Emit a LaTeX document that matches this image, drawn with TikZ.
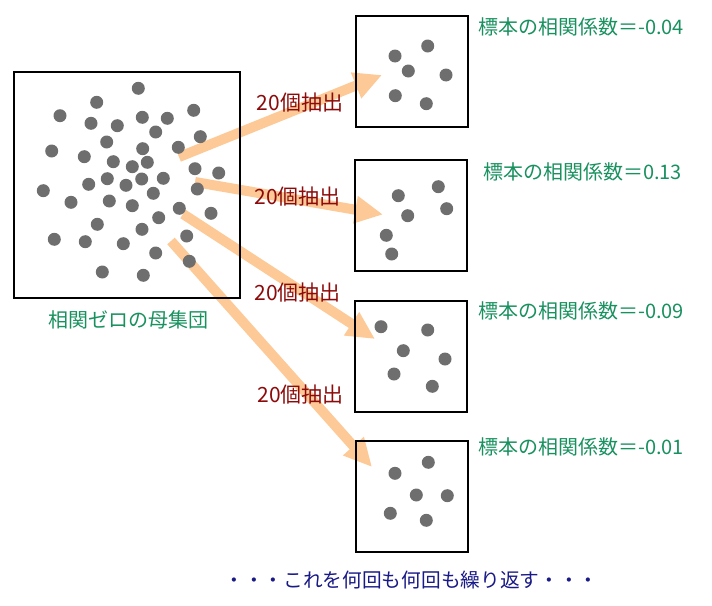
\documentclass[tikz,border=0pt]{standalone}
\usepackage{fontspec}
\setmainfont{Noto Sans CJK JP}
\usetikzlibrary{arrows.meta,backgrounds,calc}

\definecolor{pickorange}{RGB}{253,201,150}
\definecolor{dotgray}{RGB}{110,110,110}
\definecolor{corrgreen}{RGB}{25,145,95}
\definecolor{pickred}{RGB}{140,10,10}
\definecolor{notenavy}{RGB}{25,25,135}

\tikzset{
	box/.style={draw, line width=2pt, minimum width=112pt, minimum height=111pt, inner sep=0pt},
	dot/.style={fill=dotgray},
	pick/.style={line width=10pt, draw=pickorange, -{Triangle[length=28pt,width=26pt]}},
	picklabel/.style={text=pickred, inner sep=0pt, font=\fontsize{21pt}{24pt}\selectfont},
	corr/.style={text=corrgreen, anchor=west, inner sep=0pt, font=\fontsize{20pt}{23pt}\selectfont},
}

\begin{document}
\begin{tikzpicture}[x=1pt,y=-1pt]
	\useasboundingbox (0,0) rectangle (712,605);
	%population and samples
	\node[box, minimum width=226pt, minimum height=226pt] (pop) at (127,184.5) {};
	\node[corr, anchor=center] (poplabel) at (128,320) {相関ゼロの母集団};
	\node[box] (s1) at (411.5,71.5) {};
	\node[box] (s2) at (411,215.5) {};
	\node[box] (s3) at (411,356) {};
	\node[box] (s4) at (412,496.5) {};
	\node[corr] (r1) at (478,27) {標本の相関係数＝-0.04};
	\node[corr] (r2) at (483,172) {標本の相関係数＝0.13};
	\node[corr] (r3) at (478,311) {標本の相関係数＝-0.09};
	\node[corr] (r4) at (478,447) {標本の相関係数＝-0.01};
	%dots
	\foreach \x/\y in {138.3/88.3, 96.7/102.3, 60/115.7, 91/123.3, 117.3/125.7, 142.3/117.3,
		167.3/118.3, 193.7/110.3, 155.7/132, 200.3/136.7, 106.7/142, 51.7/151, 84.3/156.7,
		142.7/148.7, 178.3/147.3, 113.3/161.7, 132.3/166.7, 147.3/162.3, 195/168.7, 218.7/173,
		107.3/178.7, 88.7/184.3, 126/185.3, 141.7/179, 163.3/178.3, 197.3/189, 43.3/190.7,
		153.3/193.3, 71/202.3, 109.3/201, 132.3/205.7, 179.3/208.3, 211/213.3, 158.7/217.7,
		97.3/224.3, 142/229.3, 54.3/239.3, 85.3/241.7, 123.3/243.7, 186.7/236, 155.7/253,
		189.3/261.3, 102.3/272, 143.3/275.3}
		\fill[dot] (\x,\y) circle (6.5pt);
	\foreach \x/\y in {427.7/46, 395/56, 408.3/71, 446/75, 395.3/95.7, 426.3/103.7,
		438.3/186.7, 398.3/195.7, 446.7/208.7, 407.7/215.7, 386.3/235.3, 391.7/254,
		381/326.7, 427.7/330, 403.3/350.7, 445/359, 394/374, 432.3/386.3,
		428.3/462.3, 395/473.3, 416.3/495, 447.3/495.7, 390.3/513.3, 426.3/520.3}
		\fill[dot] (\x,\y) circle (6.5pt);
	%arrows
	\coordinate (a1) at (179,157);
	\coordinate (a2) at (195,182);
	\coordinate (a3) at (183,214);
	\coordinate (a4) at (171,241);
	\coordinate (b1) at ($(s1.center)+(-29.5,3.5)$);
	\coordinate (b2) at ($(s2.center)+(-28,-1)$);
	\coordinate (b3) at ($(s3.center)+(-36,-17)$);
	\coordinate (b4) at ($(s4.center)+(-40,-29.5)$);
	\begin{scope}[on background layer]
		\foreach \i in {1,...,4}
			\draw[pick] (a\i) -- (b\i);
	\end{scope}
	\node[picklabel] (p1) at (300,103) {20個抽出};
	\node[picklabel] (p2) at (297.5,197) {20個抽出};
	\node[picklabel] (p3) at (297.5,293) {20個抽出};
	\node[picklabel] (p4) at (300.5,395) {20個抽出};
	\node[text=notenavy, font=\fontsize{19.7pt}{23pt}\selectfont] (note) at (411.5,580) {・・・これを何回も何回も繰り返す・・・};
\end{tikzpicture}
\end{document}
